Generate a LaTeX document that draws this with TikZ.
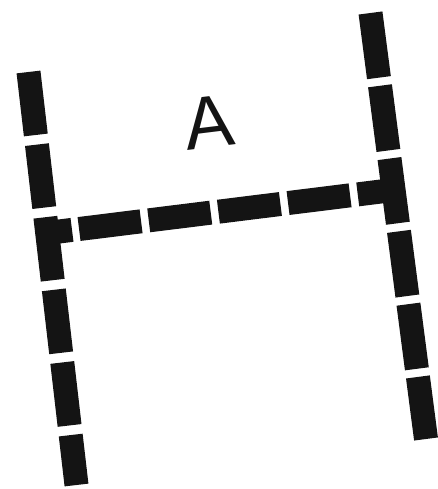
\documentclass[tikz,border=0pt]{standalone}
\usepackage{fontspec}
\setsansfont{Liberation Sans}
\usepackage{tikz}
\definecolor{ink}{HTML}{141414}

\begin{document}
\begin{tikzpicture}[
    x=0.03cm, y=-0.03cm,
    wall/.style={line width=0.72cm, draw=ink},
    roomtag/.style={font=\sffamily\fontsize{63}{63}\selectfont, inner sep=0pt, rotate=7, text=ink}
]
\useasboundingbox (0,0) rectangle (437,489);

% Wall ends and junctions
\coordinate (lt) at (28.5,72);
\coordinate (lb) at (76.5,485);
\coordinate (rt) at (370.5,13);
\coordinate (rb) at (426,439);
\coordinate (lj) at (47,233);
\coordinate (rj) at (393,190);

% Left wall
\draw[wall, dash pattern=on 1.902cm off 0.291cm] (lt) -- (lb);

% Right wall
\draw[wall, dash pattern=on 1.956cm off 0.246cm] (rt) -- (rb);

% Cross wall
\draw[wall, dash pattern=on 0.756cm off 0.213cm on 1.875cm off 0.231cm on 1.875cm off 0.231cm on 1.875cm off 0.231cm on 1.875cm off 0.231cm on 1.2cm] (lj) -- (rj);

% Room name
\node[roomtag] (a) at (209,122) {A};

\end{tikzpicture}
\end{document}
